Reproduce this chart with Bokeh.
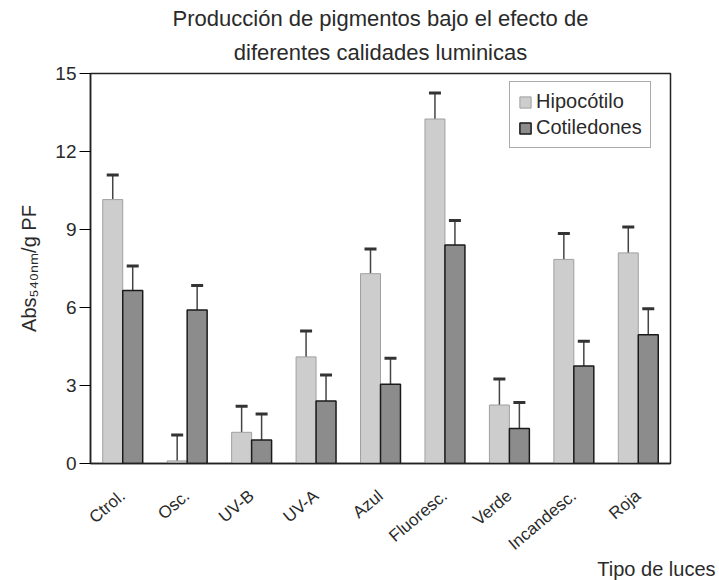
from bokeh.plotting import figure
from bokeh.models import ColumnDataSource, Whisker, Legend, LegendItem, FixedTicker, FactorRange, TeeHead, Title
from bokeh.transform import dodge
from bokeh.embed import file_html
from bokeh.resources import INLINE

categories = ["Ctrol.", "Osc.", "UV-B", "UV-A", "Azul", "Fluoresc.", "Verde", "Incandesc.", "Roja"]
hipocotilo = [10.15, 0.1, 1.2, 4.1, 7.3, 13.25, 2.25, 7.85, 8.1]
hipocotilo_err = [0.95, 1.0, 1.0, 1.0, 0.95, 1.0, 1.0, 1.0, 1.0]
cotiledones = [6.65, 5.9, 0.9, 2.4, 3.05, 8.4, 1.35, 3.75, 4.95]
cotiledones_err = [0.95, 0.95, 1.0, 1.0, 1.0, 0.95, 1.0, 0.95, 1.0]
y_ticks = [0, 3, 6, 9, 12, 15]

src = ColumnDataSource(dict(
    cat=categories,
    h=hipocotilo,
    h_up=[v + e for v, e in zip(hipocotilo, hipocotilo_err)],
    c=cotiledones,
    c_up=[v + e for v, e in zip(cotiledones, cotiledones_err)],
))

FONT = "Liberation Sans"
TXT = "#2a2a2a"

p = figure(width=719, height=580, x_range=FactorRange(*categories), y_range=(0, 15),
           output_backend="svg", toolbar_location=None, title=None,
           min_border_left=90, min_border_right=49, min_border_top=73, min_border_bottom=117)
p.xgrid.visible = False
p.ygrid.visible = False
p.outline_line_color = "#222222"
p.outline_line_width = 1.5
p.x_range.range_padding = 0.0

off = 0.155
w = 0.31
hb = p.vbar(x=dodge("cat", -off, range=p.x_range), top="h", width=w, source=src,
            fill_color="#cdcdcd", line_color="#a0a0a0", line_width=1)
cb = p.vbar(x=dodge("cat", off, range=p.x_range), top="c", width=w, source=src,
            fill_color="#8c8c8c", line_color="#1a1a1a", line_width=1.5)

for key, up, o in (("h", "h_up", -off), ("c", "c_up", off)):
    wk = Whisker(base=dodge("cat", o, range=p.x_range), lower=key, upper=up, source=src,
                 line_color="#444444", line_width=1.5,
                 upper_head=TeeHead(size=12, line_color="#333333", line_width=3),
                 lower_head=None)
    p.add_layout(wk)

p.yaxis.ticker = FixedTicker(ticks=y_ticks)
p.yaxis.minor_tick_line_color = None
p.yaxis.major_tick_in = 0
p.yaxis.major_tick_out = 11
p.yaxis.major_label_text_font = FONT
p.yaxis.major_label_text_font_size = "19px"
p.yaxis.major_label_text_color = TXT
p.yaxis.major_label_standoff = 3
p.yaxis.axis_line_color = "#222222"
p.yaxis.axis_line_width = 1.5
p.yaxis.axis_label = "Abs₅₄₀ₙₘ/g PF"
p.yaxis.axis_label_text_font = FONT
p.yaxis.axis_label_text_font_style = "normal"
p.yaxis.axis_label_text_font_size = "20px"
p.yaxis.axis_label_text_color = TXT
p.yaxis.axis_label_standoff = 12

p.xaxis.major_tick_line_color = None
p.xaxis.minor_tick_line_color = None
p.xaxis.major_label_orientation = 0.70
p.xaxis.major_label_text_font = FONT
p.xaxis.major_label_text_font_size = "17px"
p.xaxis.major_label_text_color = TXT
p.xaxis.major_label_standoff = 24
p.xaxis.axis_line_color = "#222222"
p.xaxis.axis_line_width = 1.5

legend = Legend(items=[LegendItem(label="Hipocótilo", renderers=[hb]),
                       LegendItem(label="Cotiledones", renderers=[cb])],
                location=(419, 315), border_line_color="#555555", border_line_width=1,
                label_text_font=FONT, label_text_font_size="20px", label_text_color=TXT,
                glyph_width=14, glyph_height=14, spacing=3, padding=8, margin=0,
                label_standoff=4, background_fill_alpha=1)
p.add_layout(legend)

title2 = Title(text="diferentes calidades luminicas", align="center", text_font=FONT,
               text_font_size="22px", text_font_style="normal", text_color=TXT, standoff=17)
title1 = Title(text="Producción de pigmentos bajo el efecto de", align="center", text_font=FONT,
               text_font_size="22px", text_font_style="normal", text_color=TXT, standoff=-3)
p.add_layout(title2, "above")
p.add_layout(title1, "above")

xt = Title(text="Tipo de luces", align="right", offset=-45, text_font=FONT,
           text_font_size="20px", text_font_style="normal", text_color=TXT, standoff=-16)
p.add_layout(xt, "below")

open("out.html", "w").write(file_html(p, INLINE))
